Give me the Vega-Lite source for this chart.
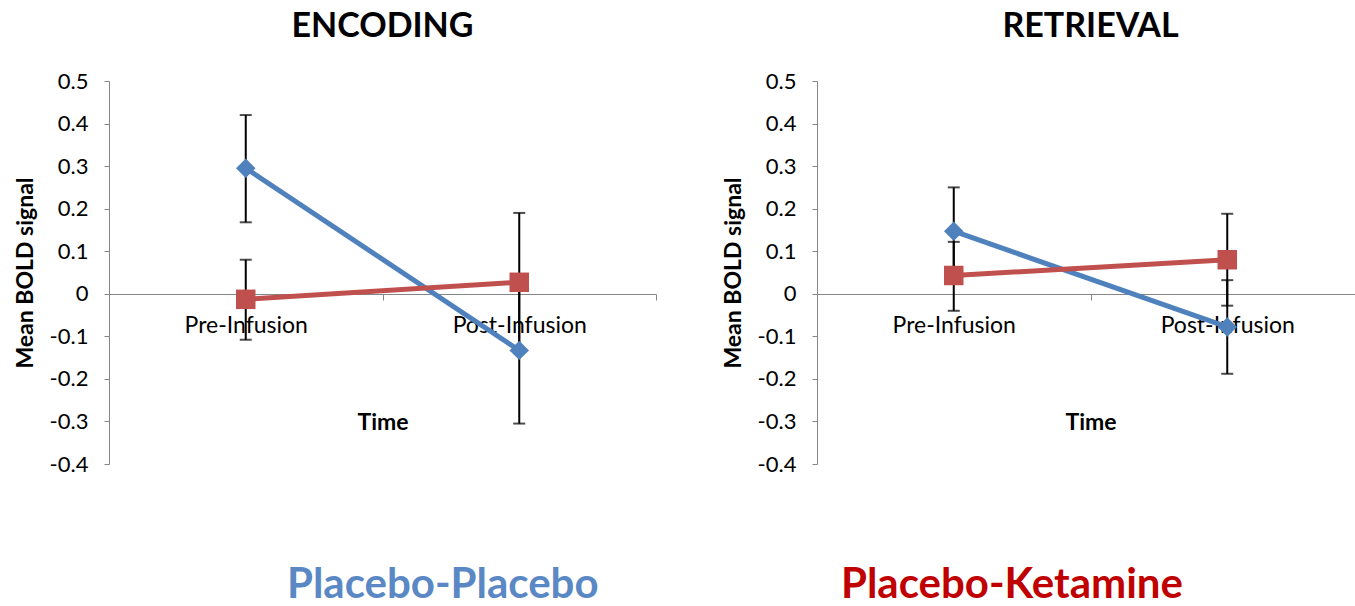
{
  "$schema": "https://vega.github.io/schema/vega-lite/v6.json",
  "background": "white",
  "padding": {"left": 14, "top": 10, "right": 0, "bottom": 0},
  "config": {
    "font": "Lato",
    "view": {"stroke": null},
    "axis": {"labelFont": "Lato", "titleFont": "Lato", "labelFontSize": 22, "labelColor": "#000000", "domainColor": "#868686", "tickColor": "#868686", "grid": false, "titleColor": "#000000", "titleFontSize": 23, "titleFontWeight": "bold"},
    "title": {"font": "Lato", "fontSize": 34, "fontWeight": "bold", "color": "#000000", "offset": 26},
    "concat": {"spacing": 65}
  },
  "datasets": {
    "d": [
      {"phase": "ENCODING", "group": "Placebo-Placebo", "time": "Pre-Infusion", "mean": 0.295, "lo": 0.168, "hi": 0.42},
      {"phase": "ENCODING", "group": "Placebo-Placebo", "time": "Post-Infusion", "mean": -0.133, "lo": -0.305, "hi": 0.04},
      {"phase": "ENCODING", "group": "Placebo-Ketamine", "time": "Pre-Infusion", "mean": -0.013, "lo": -0.108, "hi": 0.08},
      {"phase": "ENCODING", "group": "Placebo-Ketamine", "time": "Post-Infusion", "mean": 0.027, "lo": -0.136, "hi": 0.19},
      {"phase": "RETRIEVAL", "group": "Placebo-Placebo", "time": "Pre-Infusion", "mean": 0.147, "lo": 0.042, "hi": 0.25},
      {"phase": "RETRIEVAL", "group": "Placebo-Placebo", "time": "Post-Infusion", "mean": -0.078, "lo": -0.188, "hi": 0.032},
      {"phase": "RETRIEVAL", "group": "Placebo-Ketamine", "time": "Pre-Infusion", "mean": 0.043, "lo": -0.04, "hi": 0.122},
      {"phase": "RETRIEVAL", "group": "Placebo-Ketamine", "time": "Post-Infusion", "mean": 0.08, "lo": -0.028, "hi": 0.188}
    ]
  },
  "hconcat": [
    {
      "title": {"text": "ENCODING"},
      "width": 547,
      "height": 383,
      "data": {"name": "d"},
      "transform": [{"filter": "datum.phase == 'ENCODING'"}],
      "encoding": {
        "x": {"field": "time", "type": "nominal", "sort": ["Pre-Infusion", "Post-Infusion"],
          "scale": {"type": "band", "paddingInner": 0, "paddingOuter": 0},
          "axis": {"title": "Time", "labelAngle": 0, "labelFontSize": 23, "offset": -170, "tickBand": "extent", "tickSize": 6, "labelPadding": 14, "titlePadding": 74}}
      },
      "layer": [
        {
          "mark": {"type": "line", "strokeWidth": 5},
          "encoding": {
            "y": {"field": "mean", "type": "quantitative", "scale": {"domain": [-0.4, 0.5], "nice": false},
              "axis": {"title": "Mean BOLD signal", "values": [-0.4, -0.3, -0.2, -0.1, 0, 0.1, 0.2, 0.3, 0.4, 0.5], "labelExpr": "toString(round(datum.value*10)/10)", "tickSize": 5, "labelPadding": 16, "titlePadding": 12}},
            "color": {"field": "group", "type": "nominal",
              "scale": {"domain": ["Placebo-Placebo", "Placebo-Ketamine"], "range": ["#4F81BD", "#C0504D"]},
              "legend": {"title": null, "orient": "none", "legendX": 136, "legendY": 483, "direction": "horizontal", "symbolSize": 0, "symbolOpacity": 0, "symbolStrokeWidth": 0, "labelFontSize": 42, "labelFontWeight": "bold", "labelFont": "Lato", "labelOffset": 0, "columnPadding": 200, "labelLimit": 0,
                "encode": {"labels": {"update": {"fill": {"signal": "datum.value === 'Placebo-Placebo' ? '#5A88C4' : '#C00000'"}}}}}}
          }
        },
        {
          "mark": {"type": "errorbar", "ticks": {"size": 12, "thickness": 2, "color": "#000000"}, "rule": {"strokeWidth": 2, "color": "#000000"}},
          "encoding": {
            "y": {"field": "lo", "type": "quantitative", "title": "Mean BOLD signal"},
            "y2": {"field": "hi"},
            "detail": {"field": "group"}
          }
        },
        {
          "mark": {"type": "point", "filled": true, "opacity": 1, "size": 380},
          "encoding": {
            "y": {"field": "mean", "type": "quantitative"},
            "color": {"field": "group", "type": "nominal"},
            "shape": {"field": "group", "type": "nominal", "scale": {"domain": ["Placebo-Placebo", "Placebo-Ketamine"], "range": ["diamond", "square"]}, "legend": null}
          }
        }
      ]
    },
    {
      "title": {"text": "RETRIEVAL"},
      "width": 547,
      "height": 383,
      "data": {"name": "d"},
      "transform": [{"filter": "datum.phase == 'RETRIEVAL'"}],
      "encoding": {
        "x": {"field": "time", "type": "nominal", "sort": ["Pre-Infusion", "Post-Infusion"],
          "scale": {"type": "band", "paddingInner": 0, "paddingOuter": 0},
          "axis": {"title": "Time", "labelAngle": 0, "labelFontSize": 23, "offset": -170, "tickBand": "extent", "tickSize": 6, "labelPadding": 14, "titlePadding": 74}}
      },
      "layer": [
        {
          "mark": {"type": "line", "strokeWidth": 5},
          "encoding": {
            "y": {"field": "mean", "type": "quantitative", "scale": {"domain": [-0.4, 0.5], "nice": false},
              "axis": {"title": "Mean BOLD signal", "values": [-0.4, -0.3, -0.2, -0.1, 0, 0.1, 0.2, 0.3, 0.4, 0.5], "labelExpr": "toString(round(datum.value*10)/10)", "tickSize": 5, "labelPadding": 16, "titlePadding": 12}},
            "color": {"field": "group", "type": "nominal"}
          }
        },
        {
          "mark": {"type": "errorbar", "ticks": {"size": 12, "thickness": 2, "color": "#000000"}, "rule": {"strokeWidth": 2, "color": "#000000"}},
          "encoding": {
            "y": {"field": "lo", "type": "quantitative", "title": "Mean BOLD signal"},
            "y2": {"field": "hi"},
            "detail": {"field": "group"}
          }
        },
        {
          "mark": {"type": "point", "filled": true, "opacity": 1, "size": 380},
          "encoding": {
            "y": {"field": "mean", "type": "quantitative"},
            "color": {"field": "group", "type": "nominal"},
            "shape": {"field": "group", "type": "nominal", "legend": null}
          }
        }
      ]
    }
  ]
}
